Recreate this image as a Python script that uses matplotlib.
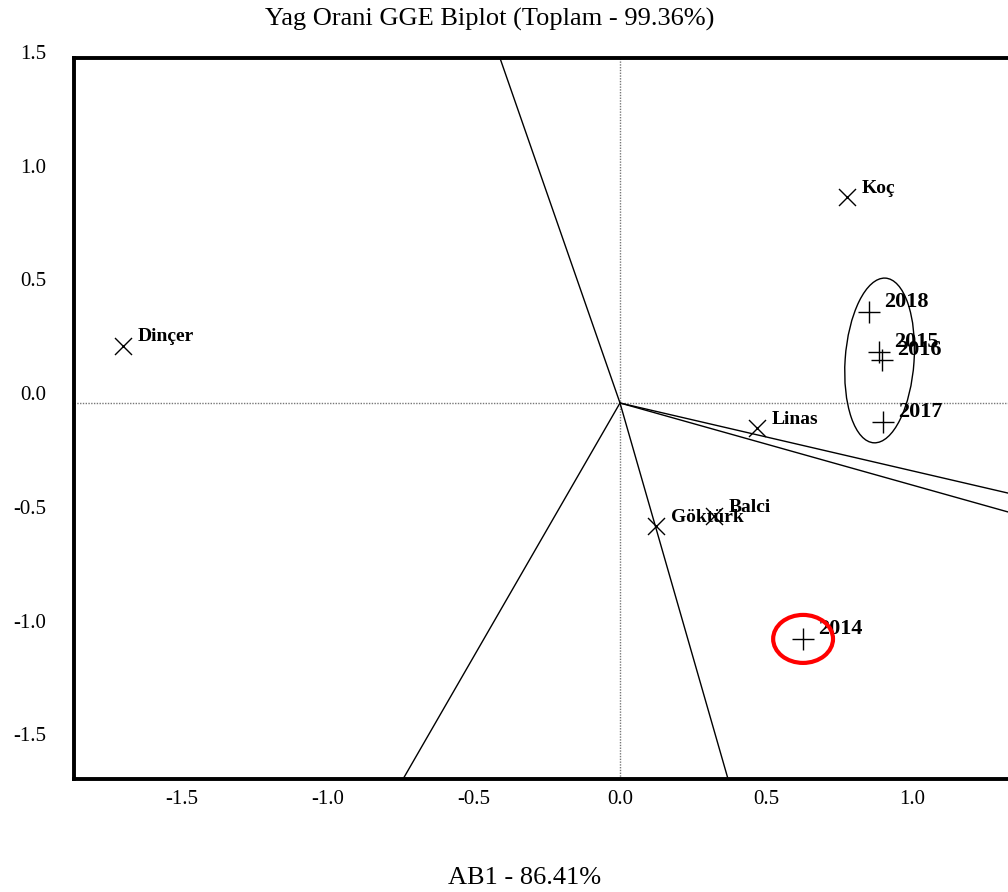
import matplotlib
matplotlib.use("Agg")
import matplotlib.pyplot as plt
from matplotlib.patches import Ellipse
from matplotlib.transforms import offset_copy
import numpy as np

# --- data ---
gen_names = ["Dinçer", "Koç", "Linas", "Balci", "Göktürk"]
gen_x = [-1.702, 0.777, 0.469, 0.322, 0.123]
gen_y = [0.251, 0.905, -0.110, -0.497, -0.541]

env_names = ["2018", "2015", "2016", "2017", "2014"]
env_x = [0.853, 0.887, 0.897, 0.901, 0.627]
env_y = [0.400, 0.224, 0.189, -0.084, -1.037]

# directions of the sector rays from the origin
ray_x = [-0.411, -0.743, 0.370, 1.329, 1.329]
ray_y = [1.516, -1.653, -1.653, -0.396, -0.479]

xticks = [-1.5, -1.0, -0.5, 0.0, 0.5, 1.0]
yticks = [1.5, 1.0, 0.5, 0.0, -0.5, -1.0, -1.5]

title = "Yag Orani GGE Biplot (Toplam - 99.36%)"
xlabel = "AB1 - 86.41%"

W, H = 1008, 892
fig = plt.figure(figsize=(W / 100, H / 100), dpi=100)
left_px, right_px, top_px, bot_px = 74, 1030, 58, 779
ax = fig.add_axes([left_px / W, 1 - bot_px / H, (right_px - left_px) / W, (bot_px - top_px) / H])

xpx = 292.0
ypx = 227.5
ax.set_xlim((left_px - 620) / xpx, (right_px - 620) / xpx)
ax.set_ylim(-(bot_px - 403) / ypx, (403 - top_px) / ypx)

serif = ["Liberation Serif", "DejaVu Serif"]

for s in ["left", "bottom", "top"]:
    ax.spines[s].set_linewidth(2.8)
ax.spines["right"].set_visible(False)

ax.set_xticks(xticks)
ax.set_xticklabels([f"{v:.1f}" for v in xticks], fontsize=15, family=serif)
ax.set_yticks(yticks)
ax.set_yticklabels([f"{v:.1f}" for v in yticks], fontsize=15, family=serif)
ax.tick_params(axis="both", length=0)
ax.tick_params(axis="x", pad=8)
ax.tick_params(axis="y", pad=20)
# y labels sit slightly above their positions in the original
for lbl in ax.get_yticklabels():
    lbl.set_transform(offset_copy(lbl.get_transform(), fig=fig, x=0, y=10, units="dots"))

# dotted axes through origin
ax.axhline(0, color="#777777", lw=1.0, ls=(0, (1, 1)), zorder=1)
ax.axvline(0, color="#777777", lw=1.0, ls=(0, (1, 1)), zorder=1)

# rays
for rx, ry in zip(ray_x, ray_y):
    ax.plot([0, rx * 3], [0, ry * 3], color="black", lw=1.0, zorder=2)

# genotypes
ax.scatter(gen_x, gen_y, marker="x", s=150, color="black", linewidths=1.0, zorder=3)
for n, x, y in zip(gen_names, gen_x, gen_y):
    ax.annotate(n, (x, y), xytext=(15, 9), textcoords="offset pixels",
                fontsize=14, fontweight="bold", family=serif, va="center", ha="left")

# environments
ax.scatter(env_x, env_y, marker="+", s=270, color="black", linewidths=1.0, zorder=3)
for n, x, y in zip(env_names, env_x, env_y):
    ax.annotate(n, (x, y), xytext=(15, 10), textcoords="offset pixels",
                fontsize=16, fontweight="bold", family=serif, va="center", ha="left")

# ellipses
ax.add_patch(Ellipse((0.889, 0.187), 0.236, 0.725, angle=-3, fill=False, color="black", lw=1.0, zorder=3))
ax.add_patch(Ellipse((0.627, -1.037), 0.205, 0.211, fill=False, color="red", lw=3.0, zorder=4))

fig.text(490 / W, 1 - 19 / H, title, ha="center", va="center", fontsize=19, family=serif)
fig.text(525 / W, 1 - 878 / H, xlabel, ha="center", va="center", fontsize=19, family=serif)

fig.savefig("out.png", dpi=100)
